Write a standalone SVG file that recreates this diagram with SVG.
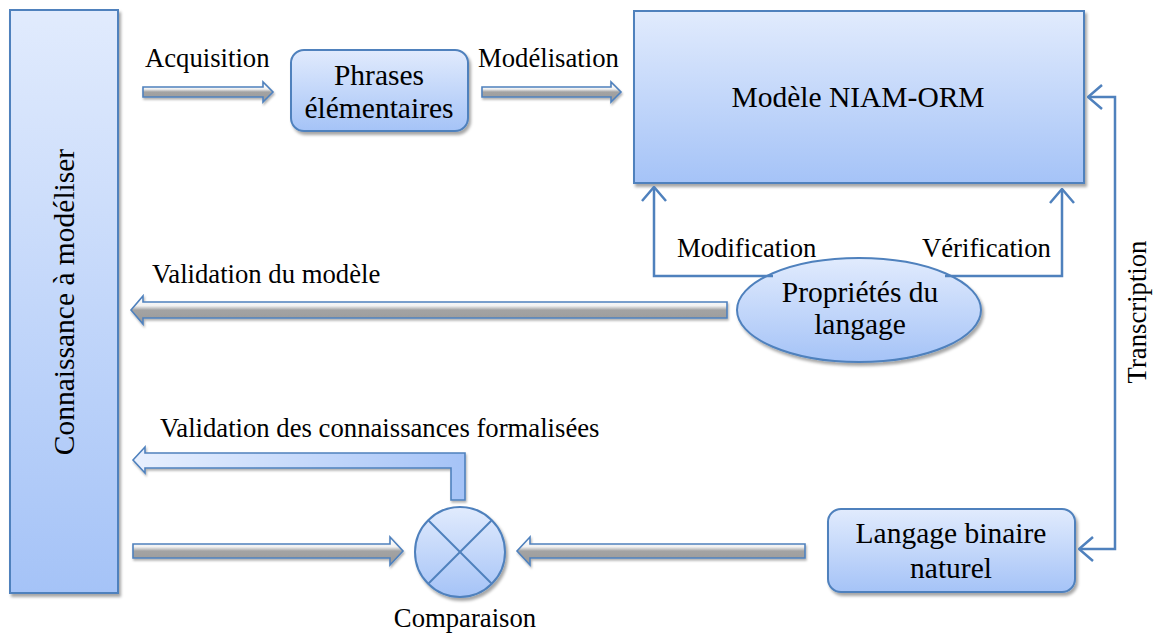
<svg xmlns="http://www.w3.org/2000/svg" width="1157" height="635" viewBox="0 0 1157 635" font-family="'Liberation Serif', 'DejaVu Serif', serif">
<style>
text{font-family:'Liberation Serif','DejaVu Serif',serif;fill:#000}
.lbl{font-size:26.7px}
.nt{font-size:29.5px;text-anchor:middle}
.node{fill:url(#gnode);stroke:#4f81bd;stroke-width:2;filter:url(#sh)}
.blk{fill:url(#garr);stroke:#4f81bd;stroke-width:1.6;filter:url(#sh2)}
.con{fill:none;stroke:#4f81bd;stroke-width:2.5}
.cross{stroke:#4f81bd;stroke-width:2}
</style>
<defs>
<linearGradient id="gnode" x1="0" y1="0" x2="0" y2="1">
<stop offset="0" stop-color="#e1ebfd"/>
<stop offset="1" stop-color="#a5c3f7"/>
</linearGradient>
<linearGradient id="garr" x1="0" y1="0" x2="0" y2="1">
<stop offset="0" stop-color="#ffffff"/>
<stop offset="0.35" stop-color="#f2f2f2"/>
<stop offset="0.5" stop-color="#a3a3a3"/>
<stop offset="1" stop-color="#9a9a9a"/>
</linearGradient>
<linearGradient id="gbent" x1="0" y1="0" x2="1" y2="0">
<stop offset="0" stop-color="#e8f0fe"/>
<stop offset="1" stop-color="#a5c3f7"/>
</linearGradient>
<filter id="sh" x="-10%" y="-10%" width="130%" height="130%">
<feDropShadow dx="2" dy="3" stdDeviation="1.5" flood-color="#000" flood-opacity="0.35"/>
</filter>
<filter id="sh2" x="-10%" y="-30%" width="130%" height="180%">
<feDropShadow dx="1" dy="2" stdDeviation="1" flood-color="#000" flood-opacity="0.3"/>
</filter>
<marker id="oa" viewBox="0 0 16 26" refX="15" refY="13" markerWidth="16" markerHeight="26" markerUnits="userSpaceOnUse" orient="auto-start-reverse">
<path d="M1,1 L15,13 L1,25" fill="none" stroke="#4f81bd" stroke-width="2.5"/>
</marker>
</defs>

<g id="connaissance">
<rect class="node" x="10" y="10" width="108" height="583"/>
<text class="nt" transform="translate(74,302) rotate(-90)">Connaissance à modéliser</text>
</g>

<g id="phrases">
<rect class="node" x="291" y="50" width="177" height="81" rx="13"/>
<text class="nt" x="379" y="85">Phrases</text>
<text class="nt" x="379" y="118">élémentaires</text>
</g>

<g id="niam">
<rect class="node" x="634" y="11" width="450" height="172"/>
<text class="nt" x="858" y="107">Modèle NIAM-ORM</text>
</g>

<g id="proprietes">
<ellipse class="node" cx="859" cy="310" rx="122" ry="52"/>
<text class="nt" x="860" y="302">Propriétés du</text>
<text class="nt" x="860" y="334">langage</text>
</g>

<g id="langage">
<rect class="node" x="828" y="509" width="247" height="83" rx="13"/>
<text class="nt" x="951" y="543">Langage binaire</text>
<text class="nt" x="951" y="578">naturel</text>
</g>

<g id="comparaison">
<circle class="node" cx="460" cy="552" r="45"/>
<line class="cross" x1="428" y1="520" x2="492" y2="584"/>
<line class="cross" x1="492" y1="520" x2="428" y2="584"/>
<text class="lbl" x="465" y="627" text-anchor="middle">Comparaison</text>
</g>

<g id="connectors">
<path class="blk" d="M143,87 H263 V82 L273,92 L263,102 V97 H143 Z"/>
<path class="blk" d="M482,87 H611 V82 L621,92 L611,102 V97 H482 Z"/>
<path class="blk" d="M727,302 H143 V296 L131,310 L143,324 V318 H727 Z"/>
<path class="blk" d="M133,544 H390 V537 L403,551 L390,565 V558 H133 Z"/>
<path class="blk" d="M805,544 H530 V537 L517,551 L530,565 V558 H805 Z"/>
<path d="M133,460 L145,447 V453 H465 V500 H451 V468 H145 V473 Z" fill="url(#gbent)" stroke="#4f81bd" stroke-width="1.6" filter="url(#sh2)"/>
<path class="con" d="M773,276 H654 V187" marker-end="url(#oa)"/>
<path class="con" d="M945,276 H1062 V189" marker-end="url(#oa)"/>
<path class="con" d="M1088,97 H1115 V549 H1079" marker-start="url(#oa)" marker-end="url(#oa)"/>
<text class="lbl" x="145" y="67">Acquisition</text>
<text class="lbl" x="478" y="67">Modélisation</text>
<text class="lbl" x="677" y="257">Modification</text>
<text class="lbl" x="922" y="257">Vérification</text>
<text class="lbl" x="152" y="283">Validation du modèle</text>
<text class="lbl" x="160" y="437">Validation des connaissances formalisées</text>
<text class="lbl" text-anchor="middle" transform="translate(1146,312) rotate(-90)">Transcription</text>
</g>
</svg>
